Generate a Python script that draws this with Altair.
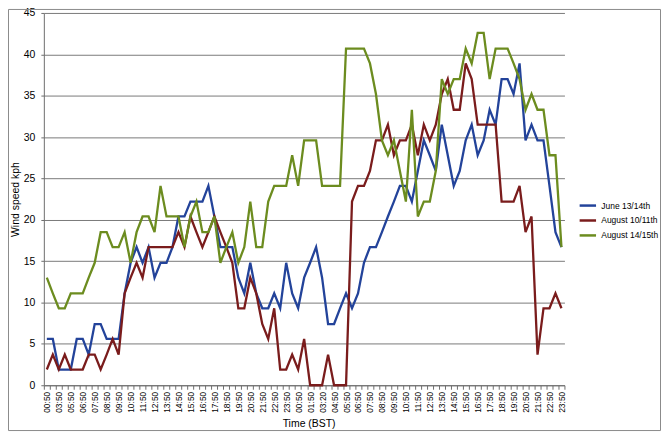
import json
import altair as alt
import pandas as pd

# ---- data ----
tick_labels = ["00:50", "03:50", "05:50", "06:50", "07:50", "08:50", "09:50", "10:50",
               "11:50", "12:50", "13:50", "14:50", "15:50", "16:50", "17:50", "18:50",
               "19:50", "20:50", "21:50", "22:50", "23:50", "00:50", "01:50", "03:20",
               "04:50", "05:50", "06:50", "07:50", "08:50", "09:50", "10:50", "11:50",
               "12:50", "13:50", "14:50", "15:50", "16:50", "17:50", "18:50", "19:50",
               "20:50", "21:50", "22:50", "23:50"]

series_names = ["June 13/14th", "August 10/11th", "August 14/15th"]
series_colors = ["#23439a", "#7a1c1c", "#6c8c1f"]

june_13_14 = [5.6, 5.6, 1.9, 1.9, 1.9, 5.6, 5.6, 3.7, 7.4, 7.4, 5.6, 5.6, 5.6,
              11.1, 14.8, 16.7, 14.8, 16.7, 13.0, 14.8, 14.8, 16.7,
              20.4, 20.4, 22.2, 22.2, 22.2, 24.1, 20.4,
              16.7, 16.7, 16.7, 13.0, 11.1, 14.8, 11.1, 9.3, 9.3, 11.1, 9.3, 14.8, 11.1, 9.3, 13.0,
              14.8, 16.7, 13.0, 7.4, 7.4, 9.3, 11.1, 9.3, 11.1, 14.8, 16.7, 16.7, 18.5, 20.4,
              22.2, 24.1, 24.1, 22.2, 25.9, 29.6, 27.8,
              25.9, 31.5, 27.8, 24.1, 25.9, 29.6, 31.5, 27.8, 29.6, 33.3, 31.5, 37.0, 37.0,
              35.2, 38.9, 29.6, 31.5, 29.6, 29.6, 24.1, 18.5, 16.7]

august_10_11 = [1.9, 3.7, 1.9, 3.7, 1.9, 1.9, 1.9, 3.7, 3.7, 1.9, 3.7, 5.6, 3.7,
                11.1, 13.0, 14.8, 13.0, 16.7, 16.7, 16.7, 16.7, 16.7,
                18.5, 16.7, 20.4, 18.5, 16.7, 18.5, 20.4, 18.5, 16.7, 14.8, 9.3, 9.3,
                13.0, 11.1, 7.4, 5.6, 9.3, 1.9, 1.9, 3.7, 1.9, 5.6,
                0.0, 0.0, 0.0, 3.7, 0.0, 0.0, 0.0,
                22.2, 24.1, 24.1, 25.9, 29.6, 29.6, 31.5, 27.8, 29.6, 29.6, 31.5, 27.8, 31.5, 29.6,
                31.5, 35.2, 37.0, 33.3, 33.3, 38.9, 37.0, 31.5, 31.5, 31.5, 31.5, 22.2, 22.2,
                22.2, 24.1, 18.5, 20.4, 3.7, 9.3, 9.3, 11.1, 9.3]

august_14_15 = [13.0, 11.1, 9.3, 9.3, 11.1, 11.1, 11.1, 13.0, 14.8, 18.5, 18.5, 16.7, 16.7,
                18.5, 14.8, 18.5, 20.4, 20.4, 18.5, 24.1, 20.4, 20.4,
                20.4, 16.7, 20.4, 22.2, 18.5, 18.5, 20.4, 14.8, 16.7, 18.5, 14.8, 16.7,
                22.2, 16.7, 16.7, 22.2, 24.1, 24.1, 24.1, 27.8, 24.1, 29.6,
                29.6, 29.6, 24.1, 24.1, 24.1, 24.1, 40.7, 40.7, 40.7, 40.7, 38.9, 35.2,
                29.6, 27.8, 29.6, 25.9, 22.2, 33.3, 20.4, 22.2, 22.2,
                25.9, 37.0, 35.2, 37.0, 37.0, 40.7, 38.9, 42.6, 42.6, 37.0, 40.7, 40.7,
                40.7, 38.9, 37.0, 33.3, 35.2, 33.3, 33.3, 27.8, 27.8, 16.7]

values = [june_13_14, august_10_11, august_14_15]
n = len(june_13_14)
assert all(len(v) == n for v in values)

rows = []
for name, vals in zip(series_names, values):
    for i, v in enumerate(vals):
        rows.append({"idx": i, "series": name, "speed": v})
df = pd.DataFrame(rows)

FONT = "Liberation Sans, Arial, Helvetica, sans-serif"
W, H = 523, 374

# tick marks sit between categories, labels on every second category
axis_values = sorted([i - 0.5 for i in range(n + 1)] + list(range(0, n, 2)))
label_expr = ("(datum.value % 2 === 0) ? " + json.dumps(tick_labels) +
              "[datum.value / 2] : ''")

lines = alt.Chart(df).mark_line(strokeWidth=2.3).encode(
    x=alt.X("idx:Q",
            scale=alt.Scale(domain=[-0.5, n - 0.5], nice=False, zero=False),
            axis=alt.Axis(values=axis_values, labelExpr=label_expr,
                          labelAngle=270, labelOverlap=False, labelFontSize=8.5,
                          labelPadding=2, tickSize=4, grid=False,
                          tickOpacity={"condition": {"test": "datum.value % 1 === 0",
                                                     "value": 0},
                                       "value": 1},
                          title="Time (BST)", titleFontSize=10.5,
                          titleFontWeight="normal", titleX=266, titleY=33,
                          titleBaseline="top")),
    y=alt.Y("speed:Q",
            scale=alt.Scale(domain=[0, 45], nice=False),
            axis=alt.Axis(values=list(range(0, 50, 5)), labelFontSize=10.5,
                          labelPadding=6, tickSize=3, grid=True,
                          title="Wind speed kph", titleFontSize=10.5,
                          titleFontWeight="normal", titleAngle=270,
                          titleX=-23, titleY=H / 2, titleAlign="center",
                          titleBaseline="bottom")),
    color=alt.Color("series:N",
                    scale=alt.Scale(domain=series_names, range=series_colors),
                    legend=alt.Legend(title=None, orient="none", legendX=537,
                                      legendY=184, symbolType="stroke",
                                      symbolSize=272, symbolStrokeWidth=2.5,
                                      labelFontSize=8.5, labelOffset=4,
                                      rowPadding=0, padding=0)),
    order=alt.Order("idx:Q"),
)

border = alt.Chart(pd.DataFrame({"a": [0]})).mark_rect(
    fill=None, stroke="#8a8a8a", strokeWidth=1
).encode(
    x=alt.value(-35.5), x2=alt.value(W + 96.5),
    y=alt.value(-3.5), y2=alt.value(H + 45.5),
)

chart = alt.layer(lines, border).properties(
    width=W, height=H,
    autosize=alt.AutoSizeParams(type="none"),
    padding={"left": 36, "top": 4, "right": 97, "bottom": 46},
).configure(
    font=FONT,
).configure_view(
    stroke=None,
).configure_axis(
    domainColor="#6e6e6e", tickColor="#6e6e6e", gridColor="#7a7a7a",
    gridWidth=1, labelColor="#000000", titleColor="#000000",
    labelFont=FONT, titleFont=FONT,
).configure_legend(
    labelFont=FONT, labelColor="#000000",
)

chart.save("out.html", embed_options={"renderer": "svg", "actions": False})
